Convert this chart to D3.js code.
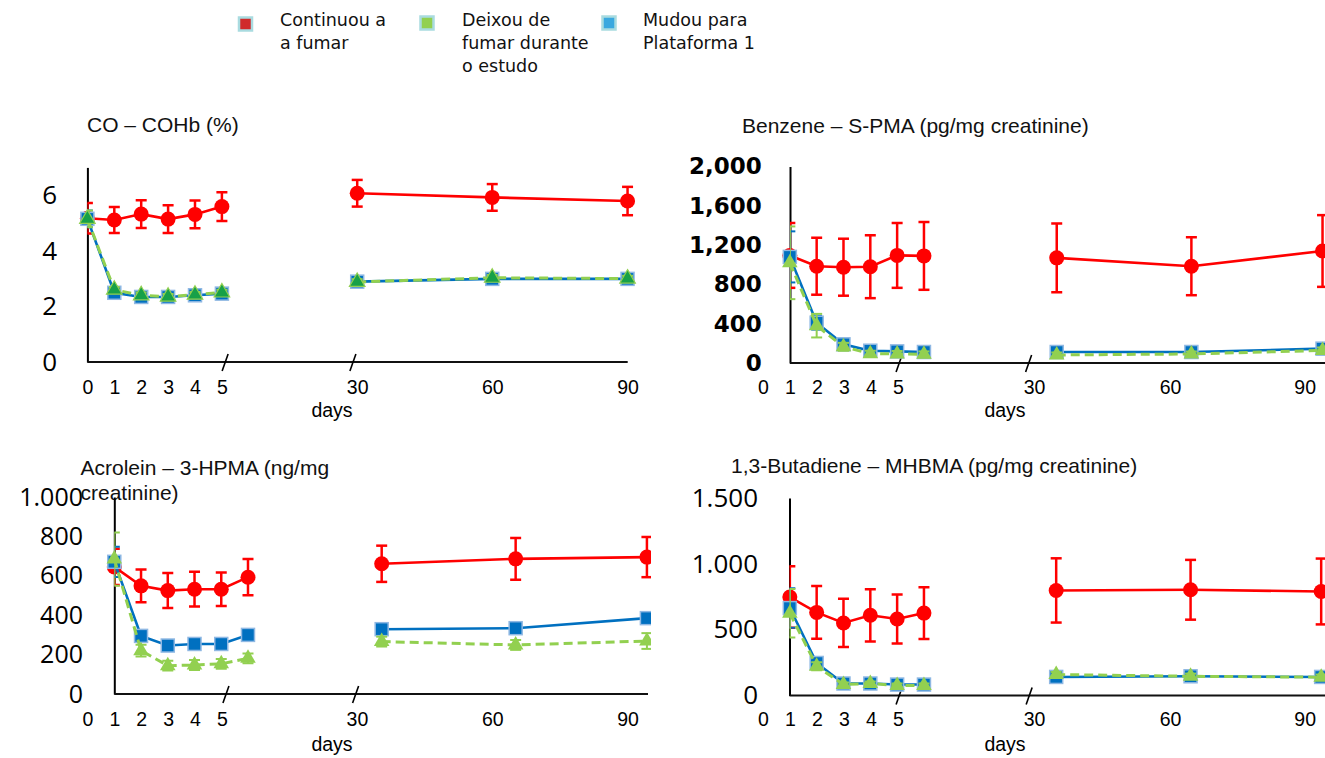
<!DOCTYPE html>
<html><head><meta charset="utf-8">
<script src="https://cdn.jsdelivr.net/npm/d3@7"></script>
<style>html,body{margin:0;padding:0;background:#fff;} svg{display:block}</style>
</head><body>
<svg id="c" width="1325" height="758"></svg>
<script>
// ---------- DATA ----------
const days = [0, 1, 2, 3, 4, 5, 30, 60, 90];
const xTickLabels = ["0", "1", "2", "3", "4", "5", "30", "60", "90"];
const xAxisTitle = "days";
const legendLines = [["Continuou a", "a fumar"], ["Deixou de", "fumar durante", "o estudo"], ["Mudou para", "Plataforma 1"]];

// CO – COHb (%)
const coTitle = ["CO – COHb (%)"];
const coTicks = [0, 2, 4, 6];
const coRed = [5.17, 5.11, 5.32, 5.14, 5.31, 5.59, 6.07, 5.92, 5.79];
const coRedErr = [0.55, 0.47, 0.5, 0.5, 0.5, 0.52, 0.48, 0.48, 0.51];
const coBlue = [5.15, 2.49, 2.34, 2.34, 2.4, 2.46, 2.89, 2.99, 2.99];
const coBlueErr = [0.3, 0.1, 0.1, 0.1, 0.1, 0.1, 0.1, 0.1, 0.1];
const coGreen = [5.15, 2.6, 2.4, 2.35, 2.42, 2.5, 2.88, 3.03, 3.0];
const coGreenErr = [0.3, 0.1, 0.1, 0.1, 0.1, 0.1, 0.1, 0.1, 0.1];

// Benzene – S-PMA
const bzTitle = ["Benzene – S-PMA (pg/mg creatinine)"];
const bzTicks = [0, 400, 800, 1200, 1600, 2000];
const bzRed = [1095, 985, 975, 980, 1095, 1090, 1070, 985, 1140];
const bzRedErr = [330, 290, 290, 320, 330, 345, 350, 295, 365];
const bzBlue = [1080, 410, 190, 125, 118, 112, 112, 112, 146];
const bzBlueErr = [260, 70, 40, 30, 30, 30, 25, 25, 55];
const bzGreen = [1020, 380, 165, 95, 92, 88, 82, 92, 128];
const bzGreenErr = [370, 120, 40, 30, 30, 30, 25, 25, 30];

// Acrolein – 3-HPMA
const acTitle = ["Acrolein – 3-HPMA (ng/mg", "creatinine)"];
const acTicks = [0, 200, 400, 600, 800, 1000];
const acRed = [645, 549, 525, 532, 532, 593, 661, 686, 695];
const acRedErr = [92, 83, 89, 88, 85, 92, 92, 106, 102];
const acBlue = [671, 295, 246, 254, 254, 300, 329, 334, 385];
const acBlueErr = [77, 15, 12, 12, 12, 15, 15, 15, 15];
const acGreen = [685, 220, 144, 147, 153, 181, 266, 249, 269];
const acGreenErr = [135, 30, 25, 25, 25, 25, 25, 25, 40];

// 1,3-Butadiene – MHBMA
const btTitle = ["1,3-Butadiene – MHBMA (pg/mg creatinine)"];
const btTicks = [0, 500, 1000, 1500];
const btRed = [748, 631, 551, 609, 581, 626, 798, 803, 790];
const btRedErr = [234, 200, 183, 198, 186, 196, 244, 227, 250];
const btBlue = [664, 247, 91, 91, 83, 83, 141, 146, 141];
const btBlueErr = [150, 25, 15, 15, 15, 15, 20, 20, 20];
const btGreen = [625, 222, 83, 91, 76, 76, 159, 146, 139];
const btGreenErr = [184, 30, 15, 15, 15, 15, 20, 20, 20];

// ---------- STYLE / LAYOUT ----------
const RED = "#ff0000", BLUE = "#0070c0", GREEN = "#92d050";
const dotFmt = d3.formatLocale({decimal: ",", thousands: ".", grouping: [3], currency: ["", ""]}).format(",");
const commaFmt = d3.format(",");
const pieceDomain = [0, 5, 30, 60, 90];
const segBreak = 6; // first segment = first six points

const panels = [
  {title: coTitle, titleX: 87, titleY: [131.7], ticks: coTicks, yMax: 7, y0: 362, yTopPx: 167.4, fmt: d3.format("d"),
   yFont: "Open Sans", yFs: 26, yW: "normal", labelRight: 57, originX: 87.4, step: 26.9, yAxisX: 87.4, axisEnd: 627.7,
   tickPos: [0, 5, 10.03, 15.05, 20.08], dataPos: [0, 5, 10.03, 15.05, 20.08], clipRight: 1325, tri: "#17a048", triStroke: GREEN,
   tickY: 394, daysX: 332, daysY: 416.5, breaks: [5.12, 9.87],
   red: coRed, redErr: coRedErr, blue: coBlue, blueErr: coBlueErr, green: coGreen, greenErr: coGreenErr},
  {title: bzTitle, titleX: 742, titleY: [133.3], ticks: bzTicks, yMax: 2000, y0: 363, yTopPx: 166.5, fmt: commaFmt,
   yFont: "DejaVu Sans", yFs: 23, yW: "bold", labelRight: 761.7, originX: 762.8, step: 27.04, yAxisX: 790, axisEnd: 1325,
   tickPos: [0, 5, 10.03, 15.06, 20.04], dataPos: [1, 5.96, 10.87, 15.85, 20.7], clipRight: 1325, tri: GREEN, triStroke: "none",
   tickY: 394, daysX: 1005, daysY: 416.5, breaks: [5.04, 9.83],
   red: bzRed, redErr: bzRedErr, blue: bzBlue, blueErr: bzBlueErr, green: bzGreen, greenErr: bzGreenErr},
  {title: acTitle, titleX: 80.5, titleY: [475, 500], ticks: acTicks, yMax: 1000, y0: 694, yTopPx: 497, fmt: dotFmt,
   yFont: "Open Sans", yFs: 25, yW: "normal", labelRight: 83, originX: 87.4, step: 26.9, yAxisX: 114.3, axisEnd: 648,
   tickPos: [0, 5, 10.02, 15.05, 20.08], dataPos: [1, 5.97, 10.94, 15.92, 20.8], clipRight: 651, tri: GREEN, triStroke: "none",
   tickY: 726, daysX: 332, daysY: 751, breaks: [5.15, 9.97],
   red: acRed, redErr: acRedErr, blue: acBlue, blueErr: acBlueErr, green: acGreen, greenErr: acGreenErr},
  {title: btTitle, titleX: 731, titleY: [472.7], ticks: btTicks, yMax: 1500, y0: 695.5, yTopPx: 498, fmt: dotFmt,
   yFont: "Open Sans", yFs: 26, yW: "normal", labelRight: 758, originX: 762.8, step: 27.04, yAxisX: 789.5, axisEnd: 1325,
   tickPos: [0, 5, 10.03, 15.06, 20.04], dataPos: [1, 5.96, 10.85, 15.82, 20.65], clipRight: 1325, tri: GREEN, triStroke: "none",
   tickY: 726, daysX: 1005, daysY: 751, breaks: [5.04, 9.85],
   red: btRed, redErr: btRedErr, blue: btBlue, blueErr: btBlueErr, green: btGreen, greenErr: btGreenErr}
];

const svg = d3.select("#c");
const defs = svg.append("defs");

// ---------- LEGEND ----------
const legendFill = ["#d02b2b", GREEN, "#3aa8df"];
const legendSqX = [245.5, 427, 609];
const legendSqY = [24, 23, 23];
const legendTextX = [280, 462, 643];
const legendBase = [25.5, 48.8, 72];
legendLines.forEach((lines, i) => {
  svg.append("rect").attr("x", legendSqX[i] - 6.5).attr("y", legendSqY[i] - 6.5).attr("width", 13).attr("height", 13)
    .attr("fill", legendFill[i]).attr("stroke", "#a9dbe0").attr("stroke-width", 2.5);
  lines.forEach((t, j) => {
    svg.append("text").attr("x", legendTextX[i]).attr("y", legendBase[j]).text(t)
      .attr("font-family", "DejaVu Sans").attr("font-size", 17.5).attr("fill", "#111");
  });
});

// ---------- PANELS ----------
panels.forEach((p, pi) => {
  const g = svg.append("g");
  const xs = d3.scaleLinear().domain([0, 1]).range([p.originX, p.originX + p.step]);
  const xTick = d3.scaleLinear().domain(pieceDomain).range(p.tickPos.map(xs));
  const xData = d3.scaleLinear().domain(pieceDomain).range(p.dataPos.map(xs));
  const y = d3.scaleLinear().domain([0, p.yMax]).range([p.y0, p.yTopPx]);

  const clipId = "clip" + pi, clipMk = "clipm" + pi;
  defs.append("clipPath").attr("id", clipId).append("rect")
    .attr("x", p.yAxisX).attr("y", 0).attr("width", p.clipRight - p.yAxisX).attr("height", 758);
  defs.append("clipPath").attr("id", clipMk).append("rect")
    .attr("x", 0).attr("y", 0).attr("width", p.clipRight).attr("height", 758);

  // title
  p.title.forEach((t, j) => {
    g.append("text").attr("x", p.titleX).attr("y", p.titleY[j]).text(t)
      .attr("font-family", "Liberation Sans, Arial, sans-serif").attr("font-size", 21).attr("fill", "#111");
  });

  // y axis
  const ya = g.append("g").attr("transform", `translate(${p.yAxisX},0)`)
    .call(d3.axisLeft(y).tickValues(p.ticks).tickFormat(p.fmt).tickSize(0).tickSizeOuter(0).tickPadding(p.yAxisX - p.labelRight));
  ya.select(".domain").attr("stroke", "#000").attr("stroke-width", 2);
  ya.selectAll("text").attr("font-family", p.yFont).attr("font-size", p.yFs).attr("font-weight", p.yW).attr("fill", "#000");

  // x axis labels
  const xa = g.append("g").attr("transform", `translate(0,${p.y0})`)
    .call(d3.axisBottom(xTick).tickValues(days).tickFormat((d, i) => xTickLabels[i]).tickSize(0));
  xa.select(".domain").remove();
  xa.selectAll("text").attr("y", p.tickY - p.y0).attr("dy", 0)
    .attr("font-family", "Liberation Sans, Arial, sans-serif").attr("font-size", 19.5).attr("fill", "#000");
  // x axis line
  g.append("line").attr("x1", p.yAxisX).attr("x2", p.axisEnd).attr("y1", p.y0).attr("y2", p.y0)
    .attr("stroke", "#111").attr("stroke-width", 2);
  // break marks
  p.breaks.forEach(b => {
    g.append("line").attr("x1", xs(b) - 3).attr("y1", p.y0 + 9).attr("x2", xs(b) + 3).attr("y2", p.y0 - 8)
      .attr("stroke", "#000").attr("stroke-width", 1.6);
  });
  g.append("text").attr("x", p.daysX).attr("y", p.daysY).attr("text-anchor", "middle").text(xAxisTitle)
    .attr("font-family", "Liberation Sans, Arial, sans-serif").attr("font-size", 19.5).attr("fill", "#000");

  const series = [
    {vals: p.red, err: p.redErr, color: RED, width: 2.6, dash: null, mk: "circle"},
    {vals: p.blue, err: p.blueErr, color: BLUE, width: 2.6, dash: null, mk: "square"},
    {vals: p.green, err: p.greenErr, color: GREEN, width: 3, dash: "9,5", mk: "tri"}
  ];
  const line = d3.line().x(d => xData(d.day)).y(d => y(d.v));
  series.forEach(s => {
    const pts = days.map((d, i) => ({day: d, v: s.vals[i], e: s.err[i], i}));
    const sg = g.append("g");
    const lg = sg.append("g").attr("clip-path", `url(#${clipId})`);
    [pts.slice(0, segBreak), pts.slice(segBreak)].forEach(seg => {
      lg.append("path").attr("d", line(seg)).attr("fill", "none").attr("stroke", s.color)
        .attr("stroke-width", s.width).attr("stroke-dasharray", s.dash);
    });
    // error bars
    const eg = lg.selectAll(null).data(pts).join("g");
    const ew = s.mk === "circle" ? 2.5 : 2;
    eg.append("line").attr("x1", d => xData(d.day)).attr("x2", d => xData(d.day))
      .attr("y1", d => y(d.v - d.e)).attr("y2", d => y(d.v + d.e))
      .attr("stroke", s.color).attr("stroke-width", ew);
    [-1, 1].forEach(sign => {
      eg.append("line").attr("x1", d => xData(d.day) - 5.5).attr("x2", d => xData(d.day) + 5.5)
        .attr("y1", d => y(d.v + sign * d.e)).attr("y2", d => y(d.v + sign * d.e))
        .attr("stroke", s.color).attr("stroke-width", ew);
    });
    // markers
    const mg = sg.append("g").attr("clip-path", `url(#${clipMk})`);
    if (s.mk === "circle") {
      mg.selectAll(null).data(pts).join("circle").attr("cx", d => xData(d.day)).attr("cy", d => y(d.v))
        .attr("r", 7.5).attr("fill", RED);
    } else if (s.mk === "square") {
      mg.selectAll(null).data(pts).join("rect").attr("x", d => xData(d.day) - 6.5).attr("y", d => y(d.v) - 6.5)
        .attr("width", 13).attr("height", 13).attr("fill", BLUE).attr("stroke", "#8fb8e3").attr("stroke-width", 1.5);
    } else {
      const sym = d3.symbol(d3.symbolTriangle, 105);
      mg.selectAll(null).data(pts).join("path").attr("d", sym)
        .attr("transform", d => `translate(${xData(d.day)},${y(d.v)})`)
        .attr("fill", p.tri).attr("stroke", p.triStroke).attr("stroke-width", 1.2);
    }
  });
});
</script>
</body></html>
